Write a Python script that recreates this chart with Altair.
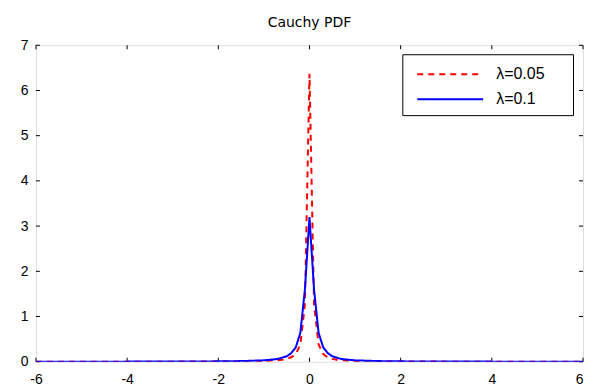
import altair as alt
import pandas as pd

# ---- data ----
x_points = [-6, -5, -4, -3, -2, -1.5, -1.0, -0.9, -0.8, -0.7, -0.6, -0.5, -0.4, -0.3, -0.2, -0.1,
            0.0, 0.1, 0.2, 0.3, 0.4, 0.5, 0.6, 0.7, 0.8, 0.9, 1.0, 1.5, 2, 3, 4, 5, 6]
red_vals = [0.0004, 0.0006, 0.001, 0.002, 0.004, 0.007, 0.016, 0.02, 0.025, 0.032, 0.044, 0.063,
            0.098, 0.17, 0.38, 1.27, 6.37, 1.27, 0.38, 0.17, 0.098, 0.063, 0.044, 0.032, 0.025,
            0.02, 0.016, 0.007, 0.004, 0.002, 0.001, 0.0006, 0.0004]
blue_vals = [0.0009, 0.0013, 0.002, 0.0035, 0.008, 0.014, 0.03, 0.04, 0.05, 0.06, 0.09, 0.12,
             0.19, 0.32, 0.64, 1.6, 3.2, 1.6, 0.64, 0.32, 0.19, 0.12, 0.09, 0.06, 0.05, 0.04,
             0.03, 0.014, 0.008, 0.0035, 0.002, 0.0013, 0.0009]
series = ["λ=0.05", "λ=0.1"]
x_ticks = [-6, -4, -2, 0, 2, 4, 6]
y_ticks = [0, 1, 2, 3, 4, 5, 6, 7]

rows = []
for name, vals in zip(series, [red_vals, blue_vals]):
    for xv, yv in zip(x_points, vals):
        rows.append({"x": xv, "y": yv, "series": name})
df = pd.DataFrame(rows)
xt = pd.DataFrame({"x": x_ticks})
yt = pd.DataFrame({"y": y_ticks})

W, H = 548, 317
FONT = "Liberation Sans"
TICK = 4

sx = alt.Scale(domain=[-6, 6], nice=False, zero=False)
sy = alt.Scale(domain=[0, 7], nice=False, zero=False)
ax_x = alt.Axis(values=x_ticks, title=None, ticks=False, domain=False, grid=False,
                labelPadding=11, labelFont=FONT, labelFontSize=14, labelColor="black",
                labelFlush=False, labelExpr="'' + datum.value",
                labelAlign={"condition": {"test": "datum.value == 6", "value": "right"},
                            "value": "center"})
ax_y = alt.Axis(values=y_ticks, title=None, ticks=False, domain=False, grid=False,
                labelPadding=8, labelFont=FONT, labelFontSize=14, labelColor="black",
                labelFlush=False, labelExpr="'' + datum.value")

leg = alt.Legend(title="\u2800", titleOrient="right", titlePadding=8, titleFontSize=16,
                 titleFont="DejaVu Sans",
                 orient="none", legendX=367, legendY=9,
                 symbolType="M-1,0H5", symbolSize=484, symbolStrokeWidth=2,
                 symbolOffset=6, labelOffset=56, labelFont=FONT, labelFontSize=16,
                 labelColor="black", padding=8, rowPadding=5,
                 strokeColor="black", fillColor="white")

lines = alt.Chart(df).mark_line(strokeWidth=2, clip=True).encode(
    x=alt.X("x:Q", scale=sx, axis=ax_x),
    y=alt.Y("y:Q", scale=sy, axis=ax_y),
    color=alt.Color("series:N", scale=alt.Scale(domain=series, range=["#ff0000", "#0000ff"]),
                    legend=leg),
    strokeDash=alt.StrokeDash("series:N", scale=alt.Scale(domain=series, range=[[6, 5], [1, 0]]),
                              legend=leg),
)

tick_bottom = alt.Chart(xt).mark_rule(color="black").encode(
    x=alt.X("x:Q", scale=sx, axis=ax_x), y=alt.value(H), y2=alt.value(H - TICK))
tick_top = alt.Chart(xt).mark_rule(color="black").encode(
    x=alt.X("x:Q", scale=sx, axis=ax_x), y=alt.value(0), y2=alt.value(TICK))
tick_left = alt.Chart(yt).mark_rule(color="black").encode(
    y=alt.Y("y:Q", scale=sy, axis=ax_y), x=alt.value(0), x2=alt.value(TICK))
tick_right = alt.Chart(yt).mark_rule(color="black").encode(
    y=alt.Y("y:Q", scale=sy, axis=ax_y), x=alt.value(W), x2=alt.value(W - TICK))

chart = alt.layer(tick_bottom, tick_top, tick_left, tick_right, lines).properties(
    width=W, height=H,
    title=alt.TitleParams("Cauchy PDF", font="DejaVu Sans", fontSize=14, fontWeight="normal",
                          color="black", offset=8, anchor="middle"),
    autosize=alt.AutoSizeParams(type="none"),
    padding={"left": 28, "top": 37, "right": 1, "bottom": 25},
).configure_view(stroke="#222222", strokeWidth=1).configure(background="white")

chart.save("out.html", embed_options={"renderer": "svg", "actions": False})
